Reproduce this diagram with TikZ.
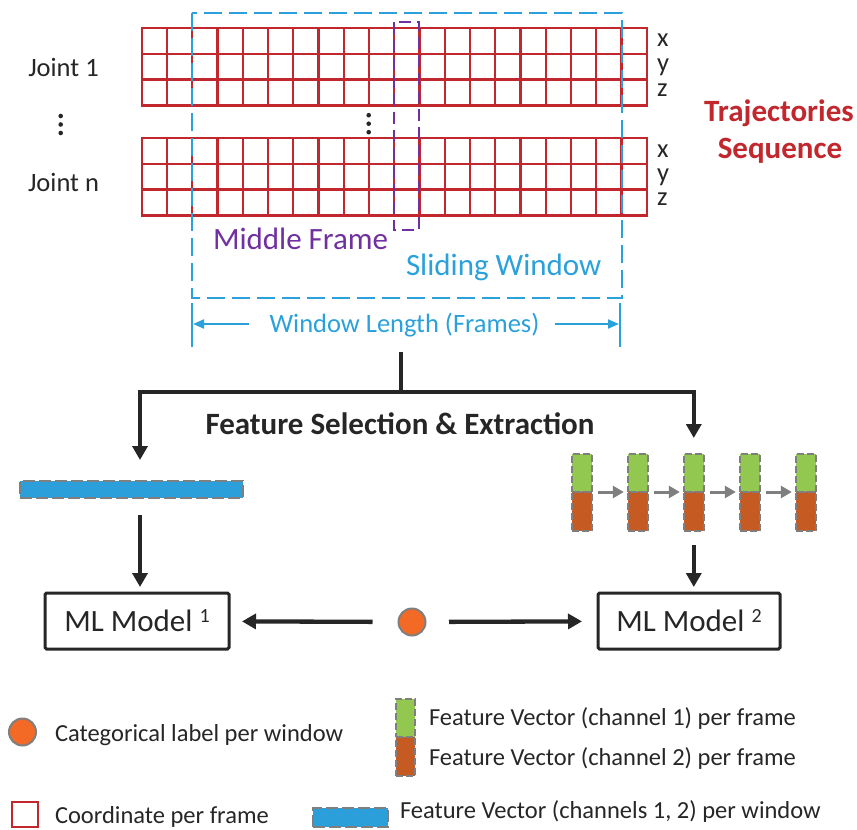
\documentclass[tikz,border=0pt]{standalone}
\usepackage{fontspec}
\setmainfont{Carlito}
\usetikzlibrary{arrows.meta}

\definecolor{gridred}{HTML}{C1272D}
\definecolor{winblue}{HTML}{2AA1DB}
\definecolor{midpurple}{HTML}{7030A0}
\definecolor{inkdark}{HTML}{262626}
\definecolor{chgreen}{HTML}{92C850}
\definecolor{chbrown}{HTML}{C55A22}
\definecolor{labelorange}{HTML}{F26A26}
\definecolor{bordergray}{HTML}{7F7F7F}
\definecolor{barblue}{HTML}{2B9FD9}

\newcommand{\fsmain}{\fontsize{26.5}{30}\selectfont}
\newcommand{\fsbig}{\fontsize{31}{36}\selectfont}
\newcommand{\fsleg}{\fontsize{24.5}{28}\selectfont}
\newcommand{\supnum}[1]{{\fontsize{20}{22}\selectfont\raisebox{9pt}{#1}}}

\begin{document}
\begin{tikzpicture}[x=1pt,y=-1pt,
  every node/.style={inner sep=0pt, outer sep=0pt, text=inkdark},
  plain/.style={font=\fsmain, anchor=base},
  bigtext/.style={font=\fsbig, anchor=base},
  legtext/.style={font=\fsleg, anchor=base west},
  cellline/.style={draw=gridred, line width=2.3pt, line cap=rect},
  winline/.style={draw=winblue, line width=2.3pt, dash pattern=on 18pt off 7pt},
  midline/.style={draw=midpurple, line width=2.3pt, dash pattern=on 12pt off 6pt},
  dimtick/.style={draw=winblue, line width=1.6pt},
  dimarrow/.style={draw=winblue, line width=2pt, -{Triangle[width=9pt,length=11pt]}},
  mainline/.style={draw=inkdark, line width=4.3pt, line join=miter},
  mainarrow/.style={mainline, -{Triangle[width=15pt,length=14pt]}},
  grayarrow/.style={draw=bordergray, line width=3pt, -{Triangle[width=12pt,length=11pt]}},
  vecborder/.style={draw=bordergray, line width=2pt, dash pattern=on 7pt off 3pt},
  chanA/.style={vecborder, fill=chgreen, minimum width=20pt, minimum height=38pt},
  chanB/.style={vecborder, fill=chbrown, minimum width=20pt, minimum height=39pt},
  winbar/.style={draw=bordergray, line width=2pt, dash pattern=on 12pt off 4pt, fill=barblue},
  mlbox/.style={draw=inkdark, line width=3pt, rounded corners=1.5pt, minimum height=56pt, font=\fsbig},
  catlabel/.style={circle, fill=labelorange, draw=bordergray, line width=2pt, minimum size=27pt},
  coordbox/.style={draw=gridred, line width=2.4pt, minimum width=26pt, minimum height=25pt},
  dotfill/.style={fill=inkdark}
]
\useasboundingbox (0,0) rectangle (857,830);

% joint trajectories: 20 frames x (x,y,z) per joint
\foreach \gy in {28,138}{
  \foreach \i in {0,...,20}{\draw[cellline] ({141.7+25.25*\i},\gy) -- ++(0,77.4);}
  \foreach \j in {0,...,3}{\draw[cellline] (141.7,{\gy+25.8*\j}) -- (646.7,{\gy+25.8*\j});}
}

% sliding window and middle frame
\draw[winline] (191.7,13.3) rectangle (621.7,298.3);
\draw[midline] (394.3,21.7) rectangle (419.3,230);

% joint labels and ellipses
\node[plain] (j1) at (63.5,76) {Joint 1};
\node[plain] (jn) at (63.5,191) {Joint n};
\foreach \dy in {116,124.5,133}{
  \fill[dotfill] (60.7,\dy) circle (2.3pt);
  \fill[dotfill] (368.7,{\dy-0.8}) circle (2.3pt);
}

% coordinate axes per row
\node[font=\fsmain, anchor=base west] (x1) at (657,46.7) {x};
\node[font=\fsmain, anchor=base west] (y1) at (657,71) {y};
\node[font=\fsmain, anchor=base west] (z1) at (657,96.7) {z};
\node[font=\fsmain, anchor=base west] (x2) at (657,157) {x};
\node[font=\fsmain, anchor=base west] (y2) at (657,181) {y};
\node[font=\fsmain, anchor=base west] (z2) at (657,205) {z};

% title
\node[bigtext, font=\fsbig\bfseries, text=gridred] (traj1) at (779,121.7) {Trajectories};
\node[bigtext, font=\fsbig\bfseries, text=gridred] (traj2) at (780,158) {Sequence};

% window captions
\node[bigtext, anchor=base west, text=midpurple] (midlab) at (213,249) {Middle Frame};
\node[bigtext, anchor=base west, text=winblue] (winlab) at (406,275) {Sliding Window};

% window length dimension
\draw[dimtick] (191.7,303) -- (191.7,347);
\draw[dimtick] (620,303) -- (620,347);
\coordinate (dimL) at (193,324);
\coordinate (dimR) at (619,324);
\node[plain, text=winblue] (wl) at (404.5,332) {Window Length (Frames)};
\draw[dimarrow, shorten <=21pt] (wl.west |- dimL) -- (dimL);
\draw[dimarrow, shorten <=15.5pt] (wl.east |- dimR) -- (dimR);

% window feature vector (channels 1, 2)
\node[winbar, minimum width=223pt, minimum height=17pt] (wv) at (131.5,489.5) {};

% per-frame feature vectors
\foreach \k [count=\n] in {581.8,637.8,693.8,749.8,805.8}{
  \node[chanA] (a\n) at (\k,473) {};
  \node[chanB] (b\n) at (\k,511.5) {};
}
\foreach \n [evaluate=\n as \m using int(\n+1)] in {1,...,4}{
  \draw[grayarrow, shorten <=6pt, shorten >=4pt] (a\n.south east) -- (a\m.south west);
}

% feature selection split
\coordinate (fsTop) at (401,352);
\coordinate (fsMid) at (401,392);
\coordinate (tipL) at (140,460);
\draw[mainline] (fsTop) -- (fsMid);
\draw[mainarrow] (fsMid) -| (tipL);
\draw[mainarrow, shorten >=16pt] (fsMid) -| (a3.north);
\node[bigtext, font=\fsbig\bfseries] (fslab) at (400,434) {Feature Selection \& Extraction};

% models
\node[mlbox, minimum width=184pt] (ml1) at (137,621) {ML Model \supnum{1}};
\node[mlbox, minimum width=182pt] (ml2) at (689,621) {ML Model \supnum{2}};
\draw[mainarrow, shorten <=17pt, shorten >=6pt] (tipL |- wv.south) -- (tipL |- ml1.north);
\draw[mainarrow, shorten <=14pt, shorten >=6pt] (b3.south) -- (b3.south |- ml2.north);

% categorical label
\node[catlabel] (lab) at (412,622) {};
\draw[mainarrow, shorten <=26pt, shorten >=13pt] (lab) -- (ml1);
\draw[mainarrow, shorten <=23.5pt, shorten >=16pt] (lab) -- (ml2);

% legend
\node[catlabel] (legcat) at (22.5,732) {};
\node[legtext] (legcattxt) at (55,741) {Categorical label per window};
\node[coordbox] (legcoord) at (24.7,814.2) {};
\node[legtext] (legcoordtxt) at (55,823) {Coordinate per frame};
\node[chanA, minimum width=19pt] (legA) at (405.5,718) {};
\node[chanB, minimum width=19pt] (legB) at (405.5,756.5) {};
\node[legtext] (legAtxt) at (429,725) {Feature Vector (channel 1) per frame};
\node[legtext] (legBtxt) at (429,765) {Feature Vector (channel 2) per frame};
\node[winbar, minimum width=75pt, minimum height=19pt] (legbar) at (350,817.5) {};
\node[legtext] (legbartxt) at (400,818) {Feature Vector (channels 1, 2) per window};
\end{tikzpicture}
\end{document}
